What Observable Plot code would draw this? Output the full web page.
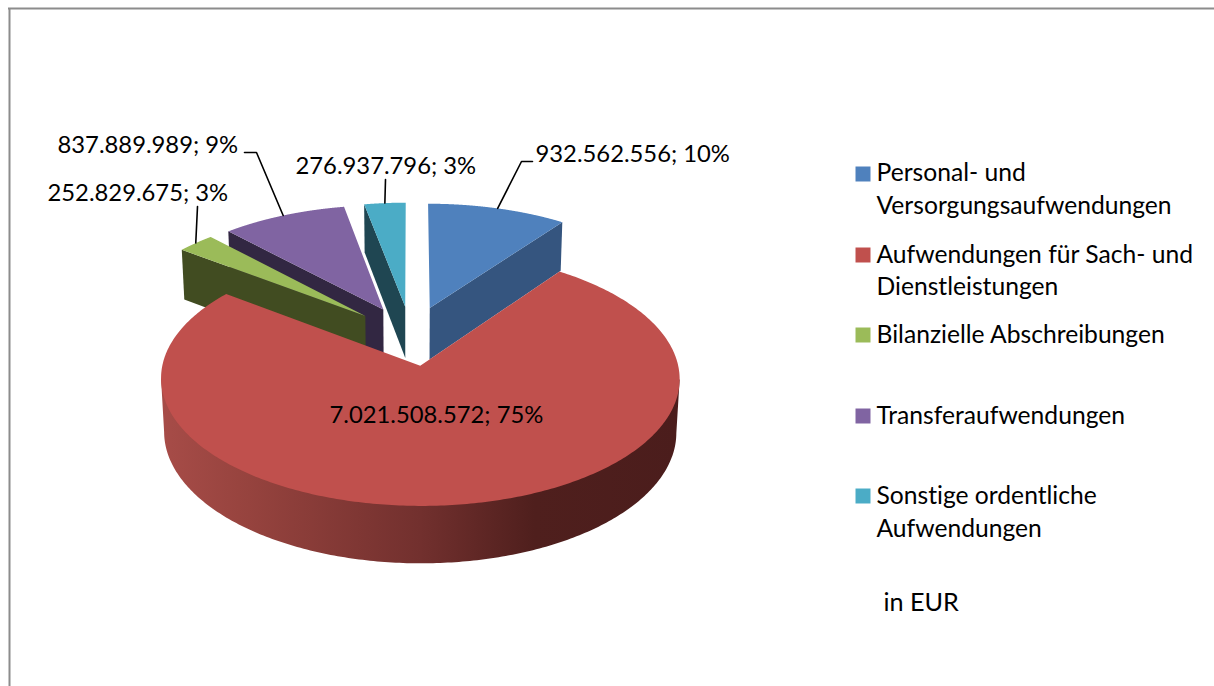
<!DOCTYPE html>
<html lang="de">
<head>
<meta charset="utf-8">
<script src="https://cdn.jsdelivr.net/npm/d3@7"></script>
<script src="https://cdn.jsdelivr.net/npm/@observablehq/plot@0.6"></script>
<style>html,body{margin:0;padding:0;background:#fff;overflow:hidden}svg{display:block}svg text{font-variant-ligatures:none}</style>
</head>
<body>
<div id="chart"></div>
<script>
const categories = ["Personal- und Versorgungsaufwendungen","Aufwendungen für Sach- und Dienstleistungen","Bilanzielle Abschreibungen","Transferaufwendungen","Sonstige ordentliche Aufwendungen"];
const values = [932562556, 7021508572, 252829675, 837889989, 276937796];
const topColors = ["#4f81bd","#c0504d","#9bbb59","#8064a2","#4bacc6"];
const sideColors = ["#35557f","url(#redSide)","#414c21","#322742","#1f4652"];
const legendRows = [
  {text:"Personal- und",y:173},{text:"Versorgungsaufwendungen",y:206},
  {text:"Aufwendungen für Sach- und",y:255},{text:"Dienstleistungen",y:287},
  {text:"Bilanzielle Abschreibungen",y:335},{text:"Transferaufwendungen",y:416},
  {text:"Sonstige ordentliche",y:496},{text:"Aufwendungen",y:529}
];
const legendSwatchY = [173.5,254.5,334.5,415.5,495.5];
const labelPos = [[535,154],[329,415],[47,193],[57,145],[295,166]];
const leaderElbows = [[[521,161],[532,161]],null,[[197,206]],[[256,152],[244,152]],[[385,179]]];

// Perspective model of the exploded pie, in the picture's own pixel frame
const x0 = 410.4, y0 = 335, a = 251.6, b = 119.8, k = 0.1, explode = 0.248, depth = 53, m = 0.012;
const project = (X, Y, d) => {
  const w = 1 + k * Y + (d ? m : 0);
  return {x: x0 + a * X / w, y: y0 + (-b * Y + (d ? depth : 0)) / w};
};
const arcs = d3.pie().sort(null).startAngle(0).endAngle(2 * Math.PI)(values);
const slices = arcs.map((s, i) => {
  const mid = (s.startAngle + s.endAngle) / 2;
  const ux = explode * Math.sin(mid), uy = explode * Math.cos(mid);
  const rim = (t, d) => project(ux + Math.sin(t), uy + Math.cos(t), d);
  const apex = d => project(ux, uy, d);
  const arcPts = d => d3.range(0, 361).map(j => rim(s.startAngle + (s.endAngle - s.startAngle) * j / 360, d));
  return {i, mid, ux, uy, rim, apex, arcPts, start: s.startAngle, end: s.endAngle};
});
const poly = (pts, fill) => Plot.line(pts, {x: "x", y: "y", fill, stroke: "none"});
const sideOf = (s, t) => [s.apex(0), s.rim(t, 0), s.rim(t, 1), s.apex(1)];

const fmt = d3.formatLocale({decimal: ",", thousands: ".", grouping: [3], currency: ["", "€"]}).format(",d");
const total = d3.sum(values);
const labelText = values.map(v => `${fmt(v)}; ${Math.round(v / total * 100)}%`);

const [blue, red, green, purple, teal] = slices;
// Front wall of the big slice: swept between its widest points, so the silhouette runs straight down
const redTop = red.arcPts(0), redBottom = red.arcPts(1);
const iRight = d3.greatestIndex(redTop, p => p.x), iLeft = d3.leastIndex(redTop, p => p.x);
const redWall = [redTop[iRight], ...redBottom.slice(iRight, iLeft + 1), redTop[iLeft]];

const marks = [
  () => {
    const defs = d3.create("svg:defs");
    const g = defs.append("linearGradient").attr("id", "redSide");
    [[0,"#a74c48"],[0.15,"#98443f"],[0.5,"#72302e"],[0.72,"#4f1f1d"],[1,"#4b1d1c"]].forEach(([o, c]) =>
      g.append("stop").attr("offset", o).attr("stop-color", c));
    return defs.node();
  },
  Plot.ruleY([8], {x1: 8, x2: 1214, stroke: "#8c8c8c", strokeWidth: 2}),
  Plot.ruleX([9], {y1: 8, y2: 686, stroke: "#8c8c8c", strokeWidth: 2}),
  // purple, green, teal, blue sides & tops, back to front
  poly(sideOf(purple, purple.start), sideColors[3]),
  poly([purple.apex(0), ...purple.arcPts(0)], topColors[3]),
  poly(sideOf(green, green.start), sideColors[2]),
  poly([green.apex(0), ...green.arcPts(0)], topColors[2]),
  poly(sideOf(teal, teal.start), sideColors[4]),
  poly([teal.apex(0), ...teal.arcPts(0)], topColors[4]),
  poly(sideOf(blue, blue.end), sideColors[0]),
  poly([blue.apex(0), ...blue.arcPts(0)], topColors[0]),
  // red: front wall then top
  poly(redWall, sideColors[1]),
  poly([red.apex(0), ...redTop], topColors[1]),
  // leaders
  ...slices.filter(s => leaderElbows[s.i]).map(s => {
    const anchor = s.rim(s.mid, 0);
    return Plot.line([anchor, ...leaderElbows[s.i].map(([x, y]) => ({x, y}))], {x: "x", y: "y", stroke: "#000", strokeWidth: 1.6});
  }),
  // data labels
  Plot.text(labelText, {
    x: (d, i) => labelPos[i][0], y: (d, i) => labelPos[i][1], text: d => d,
    textAnchor: "start", lineAnchor: "middle", fill: "#000", fontSize: 23.8
  }),
  // legend
  Plot.dot(categories, {x: () => 862.5, y: (d, i) => legendSwatchY[i], symbol: "square", r: 8.46, fill: (d, i) => topColors[i], stroke: "none"}),
  Plot.text(legendRows, {x: () => 876, y: "y", text: "text", textAnchor: "start", lineAnchor: "middle", fill: "#000", fontSize: 24.65}),
  Plot.text(["in EUR"], {x: () => 883, y: () => 602, text: d => d, textAnchor: "start", lineAnchor: "middle", fill: "#000", fontSize: 25.2})
];

const chart = Plot.plot({
  width: 1214, height: 686, margin: 0,
  x: {domain: [0, 1214], range: [0, 1214], axis: null},
  y: {domain: [0, 686], range: [0, 686], axis: null},
  style: {fontFamily: "Lato, Carlito, sans-serif", background: "#fff", color: "#000"},
  marks
});
document.getElementById("chart").append(chart);
</script>
</body>
</html>
